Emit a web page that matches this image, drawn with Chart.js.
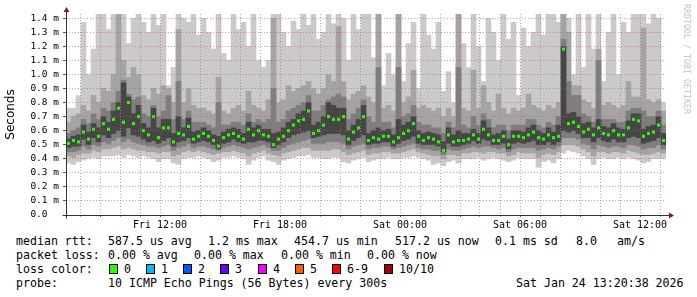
<!DOCTYPE html>
<html>
<head>
<meta charset="utf-8">
<script src="https://cdn.jsdelivr.net/npm/chart.js@4.4.1/dist/chart.umd.min.js"></script>
<style>
  body { margin: 0; width: 697px; height: 297px; background: #fff; position: relative; overflow: hidden;
         font-family: 'DejaVu Sans Mono', monospace; }
  #wrap { position: absolute; left: 0; top: 0; width: 697px; height: 232px; }
  .t { position: absolute; font-size: 11.6px; line-height: 14px; white-space: pre; color: #000; }
  .box { position: absolute; top: 264px; width: 7px; height: 8px; border: 1px solid #000; }
  #rrd { position: absolute; left: 692px; top: 4px; transform: rotate(90deg); transform-origin: 0 0;
         font-size: 8.3px; line-height: 10px; color: #c4c4c4; white-space: pre; }
</style>
</head>
<body>
<div id="wrap"><canvas id="chart" width="697" height="232"></canvas></div>
<div id="rrd">RRDTOOL / TOBI OETIKER</div>

<div class="t" style="left:16px;top:234px">median rtt:</div>
<div class="t" style="left:108px;top:234px">587.5 us avg</div>
<div class="t" style="left:208px;top:234px">1.2 ms max</div>
<div class="t" style="left:294px;top:234px">454.7 us min</div>
<div class="t" style="left:395px;top:234px">517.2 us now</div>
<div class="t" style="left:495px;top:234px">0.1 ms sd</div>
<div class="t" style="left:576px;top:234px">8.0</div>
<div class="t" style="left:617px;top:234px">am/s</div>

<div class="t" style="left:16px;top:248px">packet loss:</div>
<div class="t" style="left:108px;top:248px">0.00 % avg</div>
<div class="t" style="left:194px;top:248px">0.00 % max</div>
<div class="t" style="left:281px;top:248px">0.00 % min</div>
<div class="t" style="left:367px;top:248px">0.00 % now</div>

<div class="t" style="left:16px;top:262px">loss color:</div>
<div id="losslegend"></div>

<div class="t" style="left:16px;top:276px">probe:</div>
<div class="t" style="left:108px;top:276px">10 ICMP Echo Pings (56 Bytes) every 300s</div>
<div class="t" style="left:516px;top:276px">Sat Jan 24 13:20:38 2026</div>

<script>
// median rtt per 15 min step (ms)
const med = [
  0.51,0.53,0.52,0.59,0.54,0.61,0.56,0.65,0.61,0.68,0.76,0.66,0.80,0.65,0.70,0.60,0.57,0.70,0.55,0.62,
  0.62,0.52,0.58,0.57,0.63,0.54,0.56,0.58,0.56,0.53,0.49,0.55,0.57,0.58,0.56,0.54,0.61,0.57,0.60,0.57,
  0.56,0.50,0.54,0.56,0.60,0.64,0.67,0.68,0.74,0.58,0.60,0.64,0.70,0.68,0.68,0.70,0.54,0.59,0.62,0.70,
  0.53,0.55,0.54,0.56,0.56,0.52,0.55,0.58,0.60,0.65,0.56,0.53,0.55,0.54,0.52,0.46,0.57,0.52,0.53,0.53,
  0.54,0.57,0.54,0.61,0.57,0.53,0.53,0.56,0.50,0.56,0.56,0.55,0.57,0.59,0.55,0.54,0.57,0.55,0.56,1.18,
  0.65,0.66,0.63,0.59,0.61,0.57,0.62,0.58,0.57,0.60,0.57,0.57,0.62,0.68,0.67,0.56,0.58,0.59,0.64,0.53
];
// smoke: ping 1 / ping 10
const lo1 = [
  0.37,0.36,0.38,0.39,0.40,0.41,0.40,0.42,0.42,0.42,0.43,0.41,0.43,0.42,0.41,0.42,0.41,0.40,0.38,0.40,
  0.40,0.37,0.36,0.40,0.41,0.41,0.42,0.41,0.40,0.38,0.39,0.41,0.41,0.42,0.41,0.40,0.36,0.39,0.41,0.42,
  0.39,0.38,0.36,0.39,0.40,0.41,0.42,0.42,0.43,0.41,0.41,0.40,0.40,0.41,0.41,0.38,0.37,0.39,0.40,0.41,
  0.38,0.39,0.40,0.40,0.41,0.40,0.40,0.41,0.41,0.42,0.41,0.40,0.39,0.36,0.37,0.35,0.38,0.39,0.37,0.40,
  0.40,0.40,0.41,0.39,0.40,0.41,0.40,0.39,0.38,0.39,0.41,0.40,0.40,0.40,0.34,0.38,0.39,0.37,0.40,0.44,
  0.46,0.45,0.44,0.42,0.40,0.36,0.40,0.41,0.40,0.40,0.41,0.40,0.41,0.40,0.39,0.37,0.38,0.40,0.40,0.40
];
const hi1 = [
  0.76,0.76,0.85,1.37,1.00,1.18,1.50,1.50,1.32,1.50,1.50,1.50,1.22,1.40,1.50,1.37,1.30,1.50,1.35,1.50,
  0.92,1.05,1.50,1.40,1.37,1.50,1.28,1.40,1.30,1.18,1.50,1.15,1.10,1.50,1.32,1.37,1.20,1.50,1.10,1.05,
  1.10,1.50,1.50,1.30,1.20,1.38,1.32,1.50,1.35,1.50,1.25,1.30,1.50,1.36,1.50,1.40,1.10,1.50,1.32,1.50,
  1.50,1.12,1.50,0.92,1.15,1.00,1.50,0.95,1.22,1.37,0.90,1.50,1.28,1.18,1.37,0.88,1.02,0.80,1.50,1.22,
  1.05,1.50,1.20,0.95,1.40,1.30,1.10,1.50,1.25,1.37,0.85,1.33,1.20,1.30,1.50,1.28,1.50,1.50,1.37,1.50,
  1.40,1.00,1.50,1.05,1.50,1.18,1.50,0.95,1.30,1.50,1.00,1.37,1.30,1.50,1.50,1.50,1.36,1.50,1.40,0.80
];
// ping 2 / ping 9
const lo2 = [
  0.42,0.41,0.43,0.44,0.44,0.46,0.45,0.47,0.47,0.48,0.49,0.47,0.48,0.47,0.46,0.46,0.45,0.45,0.44,0.45,
  0.45,0.42,0.43,0.45,0.46,0.45,0.46,0.45,0.44,0.43,0.44,0.45,0.45,0.46,0.45,0.44,0.42,0.44,0.45,0.46,
  0.44,0.43,0.42,0.44,0.45,0.46,0.47,0.48,0.48,0.46,0.46,0.46,0.46,0.47,0.47,0.45,0.43,0.44,0.45,0.46,
  0.43,0.44,0.44,0.45,0.45,0.44,0.44,0.45,0.46,0.47,0.45,0.44,0.43,0.42,0.42,0.40,0.43,0.43,0.42,0.44,
  0.44,0.45,0.45,0.44,0.45,0.45,0.44,0.44,0.42,0.43,0.45,0.44,0.44,0.44,0.41,0.43,0.44,0.43,0.45,0.50,
  0.50,0.50,0.49,0.47,0.45,0.42,0.45,0.45,0.44,0.45,0.45,0.44,0.46,0.45,0.44,0.43,0.43,0.44,0.45,0.44
];
const hi2 = [
  0.66,0.70,0.72,0.78,0.74,0.85,0.80,0.90,0.88,1.00,1.50,1.10,0.98,1.05,1.00,0.85,0.82,0.90,0.86,0.92,
  0.90,0.80,1.32,0.80,0.90,0.78,0.76,0.76,0.74,0.72,0.98,0.74,0.72,0.76,0.78,0.74,0.88,0.78,0.76,0.74,
  0.82,1.40,0.80,0.82,0.92,0.88,0.90,0.92,0.95,0.90,0.86,0.90,1.00,0.95,1.34,0.95,0.82,0.86,0.88,0.92,
  0.84,0.80,1.50,0.76,0.78,0.74,1.50,0.80,0.84,1.03,0.76,0.78,0.76,0.74,0.76,0.70,0.76,0.70,1.50,0.76,
  0.74,1.03,0.76,0.92,0.80,0.74,0.86,0.76,0.72,0.76,0.74,0.76,0.86,0.78,0.76,0.74,0.78,0.76,0.80,1.50,
  1.30,0.92,0.92,0.82,0.80,0.76,1.18,0.78,0.80,0.78,0.76,0.78,0.95,0.84,0.84,1.33,0.82,0.80,0.82,0.74
];
// ping 3 / ping 8
const lo3 = [
  0.45,0.45,0.46,0.49,0.47,0.50,0.49,0.52,0.51,0.53,0.55,0.52,0.54,0.52,0.51,0.50,0.49,0.49,0.48,0.49,
  0.50,0.46,0.48,0.49,0.51,0.48,0.49,0.49,0.48,0.47,0.46,0.48,0.49,0.50,0.49,0.48,0.47,0.48,0.49,0.50,
  0.48,0.46,0.46,0.48,0.50,0.51,0.52,0.53,0.54,0.51,0.51,0.51,0.52,0.52,0.52,0.51,0.47,0.49,0.50,0.51,
  0.47,0.48,0.48,0.49,0.49,0.47,0.48,0.49,0.50,0.51,0.48,0.47,0.47,0.46,0.46,0.43,0.47,0.46,0.46,0.47,
  0.48,0.49,0.48,0.49,0.49,0.48,0.47,0.48,0.45,0.47,0.48,0.48,0.48,0.48,0.46,0.47,0.48,0.47,0.49,0.55,
  0.55,0.55,0.54,0.51,0.50,0.47,0.50,0.49,0.48,0.49,0.49,0.48,0.50,0.50,0.49,0.47,0.48,0.48,0.50,0.47
];
const hi3 = [
  0.58,0.60,0.62,0.68,0.65,0.72,0.68,0.76,0.74,0.80,0.88,0.96,0.86,0.82,0.84,0.72,0.70,0.78,0.70,0.74,
  0.85,0.68,0.95,0.68,0.74,0.66,0.66,0.66,0.64,0.62,0.80,0.64,0.64,0.66,0.66,0.64,0.72,0.66,0.68,0.66,
  0.68,0.90,0.66,0.68,0.74,0.76,0.78,0.80,0.85,0.74,0.74,0.78,0.82,0.84,0.86,0.84,0.68,0.72,0.76,0.82,
  0.70,0.66,1.05,0.66,0.66,0.62,1.05,0.70,0.72,0.78,0.66,0.64,0.64,0.62,0.62,0.58,0.66,0.62,1.05,0.64,
  0.62,0.70,0.64,0.72,0.68,0.62,0.64,0.64,0.60,0.64,0.64,0.64,0.68,0.68,0.64,0.62,0.66,0.64,0.70,1.25,
  0.95,0.85,0.85,0.72,0.70,0.66,1.10,0.68,0.68,0.68,0.66,0.66,0.74,0.76,0.76,0.74,0.70,0.70,0.74,0.64
];
// ping 4 / ping 7
const lo4 = [
  0.48,0.49,0.49,0.54,0.50,0.55,0.52,0.57,0.55,0.58,0.60,0.56,0.62,0.57,0.56,0.54,0.52,0.53,0.51,0.53,
  0.55,0.49,0.52,0.53,0.55,0.51,0.52,0.53,0.52,0.50,0.47,0.51,0.52,0.54,0.52,0.51,0.52,0.52,0.53,0.53,
  0.52,0.48,0.50,0.52,0.55,0.57,0.58,0.59,0.60,0.55,0.56,0.57,0.58,0.58,0.58,0.57,0.50,0.53,0.55,0.57,
  0.50,0.51,0.51,0.52,0.52,0.49,0.51,0.53,0.54,0.56,0.51,0.50,0.50,0.50,0.49,0.45,0.51,0.49,0.49,0.50,
  0.51,0.53,0.51,0.54,0.53,0.50,0.50,0.51,0.47,0.51,0.52,0.51,0.52,0.53,0.50,0.50,0.52,0.50,0.52,0.60,
  0.59,0.60,0.58,0.55,0.55,0.52,0.55,0.53,0.52,0.54,0.52,0.52,0.55,0.56,0.55,0.51,0.52,0.53,0.55,0.50
];
const hi4 = [
  0.54,0.56,0.57,0.64,0.59,0.65,0.62,0.70,0.66,0.74,0.80,0.94,0.84,0.72,0.78,0.65,0.62,0.76,0.62,0.68,
  0.68,0.58,0.70,0.62,0.69,0.59,0.60,0.62,0.60,0.57,0.56,0.59,0.61,0.62,0.61,0.58,0.66,0.62,0.64,0.61,
  0.61,0.58,0.59,0.62,0.66,0.68,0.72,0.74,0.80,0.64,0.66,0.70,0.80,0.78,0.76,0.76,0.60,0.64,0.68,0.78,
  0.58,0.60,0.62,0.60,0.61,0.57,0.68,0.64,0.66,0.70,0.60,0.58,0.59,0.58,0.57,0.52,0.62,0.57,0.60,0.58,
  0.58,0.61,0.58,0.67,0.62,0.57,0.58,0.60,0.54,0.60,0.60,0.59,0.62,0.64,0.60,0.58,0.62,0.59,0.64,1.20,
  0.72,0.73,0.70,0.65,0.66,0.62,0.68,0.63,0.62,0.65,0.62,0.61,0.67,0.72,0.72,0.61,0.63,0.64,0.70,0.58
];

const lossLabels = ['0', '1', '2', '3', '4', '5', '6-9', '10/10'];
const lossColors = ['#26ff00', '#00b8ff', '#0059ff', '#6a00ff', '#ff00ff', '#ff5e00', '#ff0000', '#a10000'];
const lossX = [109, 146, 183, 220, 258, 295, 332, 384];

// x axis in minutes since Fri 00:00
const startMin = 438;   // Fri 07:18
const endMin = 2238;    // Sat 13:18
const stepMin = 15;
const times = med.map((_, i) => startMin + stepMin / 2 + stepMin * i);

const majorGrid = 'rgba(222,79,79,0.6)';
const minorGrid = 'rgba(143,143,143,0.75)';

// loss colour legend
const ll = document.getElementById('losslegend');
lossLabels.forEach((lab, i) => {
  const b = document.createElement('div');
  b.className = 'box';
  b.style.left = lossX[i] + 'px';
  b.style.background = lossColors[i];
  ll.appendChild(b);
  const t = document.createElement('div');
  t.className = 't';
  t.style.left = (lossX[i] + 15) + 'px';
  t.style.top = '262px';
  t.textContent = lab;
  ll.appendChild(t);
});

function band(lo, hi) {
  return times.map((t, i) => ({ x: t, y: [lo[i], hi[i]] }));
}

// axis lines and arrows like rrdtool
const axisPlugin = {
  id: 'axes',
  afterDraw(chart) {
    const c = chart.ctx, a = chart.chartArea;
    const x0 = Math.round(a.left) + 0.5, y0 = Math.round(a.bottom) + 0.5;
    c.save();
    c.strokeStyle = '#333';
    c.lineWidth = 1;
    c.beginPath();
    c.moveTo(x0, y0 + 3); c.lineTo(x0, a.top - 4);
    c.moveTo(x0 - 4, y0); c.lineTo(a.right + 3, y0);
    c.stroke();
    c.fillStyle = '#801f1f';
    c.beginPath();
    c.moveTo(x0 - 3, a.top - 2); c.lineTo(x0 + 3, a.top - 2); c.lineTo(x0, a.top - 7); c.closePath();
    c.fill();
    c.beginPath();
    c.moveTo(a.right + 3, y0 - 3); c.lineTo(a.right + 3, y0 + 3); c.lineTo(a.right + 8, y0); c.closePath();
    c.fill();
    c.restore();
  }
};

new Chart(document.getElementById('chart'), {
  type: 'bar',
  data: {
    datasets: [
      { label: 'median', data: times.map((t, i) => ({ x: t, y: [med[i] - 0.011, med[i] + 0.011] })),
        backgroundColor: lossColors[0], barPercentage: 0.6, order: 0 },
      { label: 'p4-p7', data: band(lo4, hi4), backgroundColor: '#464646', order: 1 },
      { label: 'p3-p8', data: band(lo3, hi3), backgroundColor: '#7e7e7e', order: 2 },
      { label: 'p2-p9', data: band(lo2, hi2), backgroundColor: '#a4a4a4', order: 3 },
      { label: 'p1-p10', data: band(lo1, hi1), backgroundColor: '#cacaca', order: 4 }
    ]
  },
  options: {
    responsive: false,
    animation: false,
    layout: { padding: { left: 0, top: 14, right: 31, bottom: 0 } },
    datasets: { bar: { grouped: false, categoryPercentage: 1, barPercentage: 1, borderWidth: 0 } },
    plugins: { legend: { display: false }, tooltip: { enabled: false } },
    scales: {
      x: {
        type: 'linear', min: startMin, max: endMin, offset: false,
        afterBuildTicks: s => {
          const t = [];
          for (let m = 480; m < endMin; m += 60) t.push({ value: m });
          s.ticks = t;
        },
        afterFit: s => { s.height = 17; },
        grid: {
          z: 1, offset: false,
          color: c => (c.tick && c.tick.value % 180 === 0) ? majorGrid : minorGrid,
          tickLength: 2,
          tickColor: c => (c.tick && c.tick.value % 180 === 0) ? '#555' : '#aaa'
        },
        border: { display: false, dash: [1, 2] },
        ticks: {
          autoSkip: false, maxRotation: 0, padding: 2, color: '#000',
          font: { family: 'DejaVu Sans Mono', size: 10 },
          callback: v => {
            if (v % 360 !== 0) return '';
            const day = v < 1440 ? 'Fri' : 'Sat';
            const h = Math.floor((v % 1440) / 60);
            return day + ' ' + String(h).padStart(2, '0') + ':00';
          }
        }
      },
      y: {
        min: 0, max: 1.43,
        afterBuildTicks: s => {
          const t = [];
          for (let i = 0; i <= 14; i++) t.push({ value: i / 10 });
          s.ticks = t;
        },
        afterFit: s => { s.width = 66; },
        grid: { z: 1, color: majorGrid, tickLength: 3, tickColor: '#555' },
        border: { display: false, dash: [1, 2] },
        ticks: {
          autoSkip: false, padding: 4, color: '#000',
          font: { family: 'DejaVu Sans Mono', size: 9.5 },
          callback: v => v === 0 ? '0.0  ' : v.toFixed(1) + ' m'
        },
        title: {
          display: true, text: 'Seconds', color: '#000',
          font: { family: 'DejaVu Sans', size: 12 },
          padding: { top: 4, bottom: 0 }
        }
      }
    }
  },
  plugins: [axisPlugin]
});
</script>
</body>
</html>
